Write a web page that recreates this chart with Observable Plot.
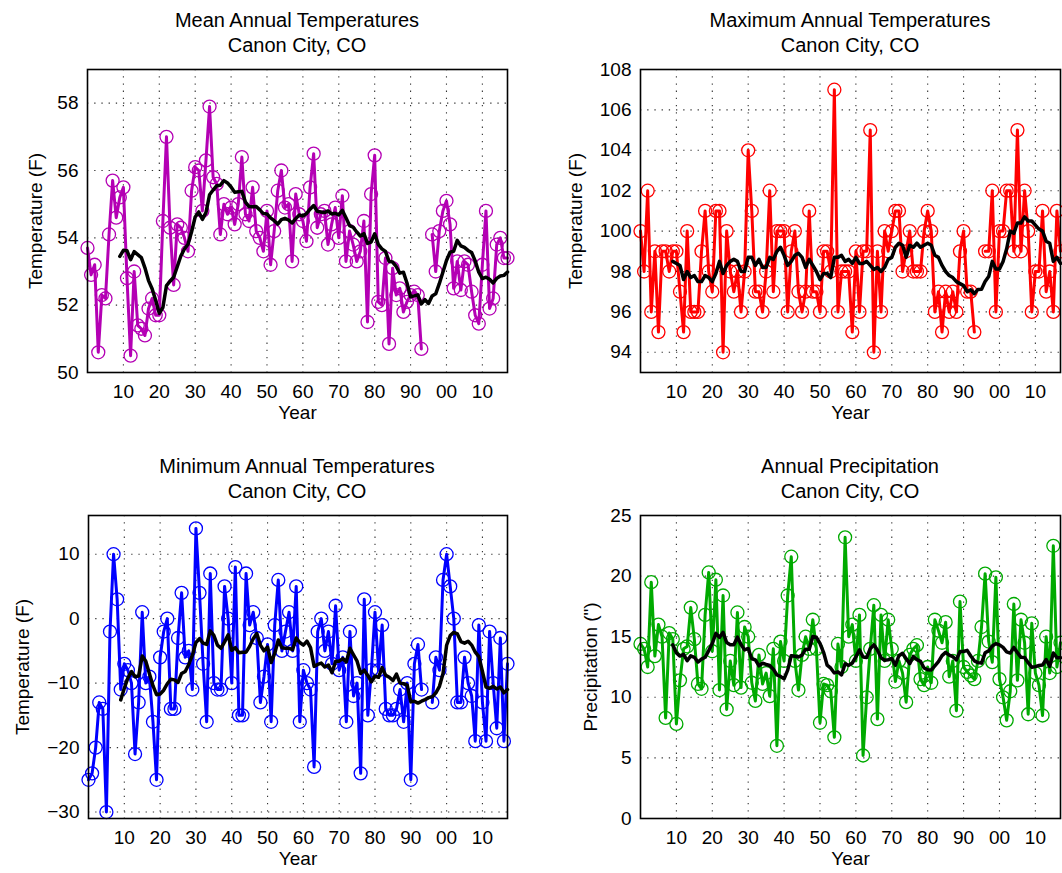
<!DOCTYPE html>
<html>
<head>
<meta charset="utf-8">
<script src="https://cdn.jsdelivr.net/npm/d3@7"></script>
<script src="https://cdn.jsdelivr.net/npm/@observablehq/plot@0.6"></script>
<style>
  html, body { margin: 0; padding: 0; background: #fff; }
  #root { position: relative; width: 1062px; height: 873px; font-family: "Liberation Sans", Arial, Helvetica, sans-serif; }
  .title { position: absolute; width: 440px; text-align: center; font-size: 20px; line-height: 25px; color: #000; }
  .panel { position: absolute; }
</style>
</head>
<body>
<div id="root"></div>
<script>
const FONT = '"Liberation Sans", Arial, Helvetica, sans-serif';

const years = [
  1900,1901,1902,1903,1904,1905,1906,1907,1908,1909,
  1910,1911,1912,1913,1914,1915,1916,1917,1918,1919,
  1920,1921,1922,1923,1924,1925,1926,1927,1928,1929,
  1930,1931,1932,1933,1934,1935,1936,1937,1938,1939,
  1940,1941,1942,1943,1944,1945,1946,1947,1948,1949,
  1950,1951,1952,1953,1954,1955,1956,1957,1958,1959,
  1960,1961,1962,1963,1964,1965,1966,1967,1968,1969,
  1970,1971,1972,1973,1974,1975,1976,1977,1978,1979,
  1980,1981,1982,1983,1984,1985,1986,1987,1988,1989,
  1990,1991,1992,1993,1994,1995,1996,1997,1998,1999,
  2000,2001,2002,2003,2004,2005,2006,2007,2008,2009,
  2010,2011,2012,2013,2014,2015,2016,2017
];

const meanTemp = [
  53.7,52.9,53.2,50.6,52.3,52.2,54.1,55.7,54.6,55.2,
  55.5,52.8,50.5,53.0,51.4,51.3,51.1,51.9,52.2,51.7,
  51.7,54.5,57.0,54.3,52.6,54.4,54.3,54.0,53.6,55.4,
  56.1,56.0,54.8,56.3,57.9,55.8,55.6,54.1,55.0,54.7,
  54.9,54.4,55.0,56.4,54.7,54.5,55.5,54.2,54.0,53.6,
  54.8,53.2,54.2,55.4,56.0,54.9,55.0,53.3,55.3,54.7,
  54.5,53.9,55.5,56.5,54.3,54.7,54.8,53.8,54.4,54.9,
  54.0,55.25,53.3,54.2,53.8,53.3,53.6,54.5,51.5,55.3,
  56.45,52.1,52.0,53.4,50.85,53.1,52.3,52.5,51.8,52.1,
  52.3,52.4,52.3,50.7,null,null,54.1,53.0,54.2,54.8,
  55.1,54.4,52.5,53.3,52.45,53.3,53.2,52.4,51.7,51.45,
  53.2,54.8,51.9,52.2,53.8,54.0,53.4,53.4
];

const maxTemp = [
  100,98,102,96,99,95,99,99,98,99,
  99,97,95,100,96,96,96,99,101,98,
  97,101,101,94,100,98,97,98,96,98,
  104,101,97,97,96,98,102,97,100,100,
  100,96,99,100,97,96,97,101,97,97,
  96,99,99,98,107,96,98,98,98,95,
  99,96,99,99,105,94,99,96,100,99,
  100,101,101,98,99,100,98,98,98,100,
  101,100,96,97,95,97,96,97,96,99,
  100,97,97,95,null,null,99,99,102,96,
  100,100,102,102,99,105,99,102,100,96,
  98,98,101,97,98,96,101,99
];

const minTemp = [
  -25,-24,-20,-13,-14,-30,-2,10,3,-11,
  -7,-8,-10,-21,-13,1,-10,-9,-16,-25,
  -6,-2,0,-14,-14,-3,4,-6,-5,-11,
  14,4,-7,-16,7,-10,-11,-11,5,0,
  -10,8,-15,-15,7,-1,1,-3,-13,-9,
  -4,-16,-1,6,-5,-2,1,-5,5,-16,
  -8,-10,-11,-23,-2,0,-5,-2,-7,2,
  -8,-6,-16,-2,-12,-10,-24,3,-15,-8,
  1,-8,-1,-14,-15,-15,-14,-11,-16,-10,
  -25,-7,-4,-11,null,null,-13,-6,-8,6,
  10,5,0,-13,-13,-6,-10,-12,-19,-1,
  -13,-19,-2,-10,-17,-3,-19,-7
];

const precip = [
  14.4,14.0,12.5,19.5,13.4,16.0,15.0,8.3,15.3,14.8,
  7.8,11.4,14.0,14.2,17.4,14.8,11.1,10.7,16.8,20.3,
  13.8,19.7,10.6,18.4,9.0,13.0,11.0,17.0,10.8,15.8,
  15.0,11.2,9.7,13.5,11.1,12.0,10.1,14.0,6.0,14.6,
  13.0,18.4,21.6,13.0,10.6,13.5,15.0,14.0,16.4,14.0,
  7.9,11.1,11.0,10.5,6.7,14.4,12.5,23.2,15.0,16.0,
  13.0,16.8,5.2,10.0,14.0,17.6,8.2,16.8,13.0,16.4,
  14.0,11.3,13.0,12.0,9.6,13.5,14.0,14.3,11.5,11.0,
  12.5,11.2,16.4,15.5,14.5,16.2,11.7,13.0,8.9,17.9,
  12.5,12.1,11.8,11.5,13.0,15.8,20.2,14.6,12.9,19.9,
  11.5,10.0,8.1,10.5,17.7,11.4,16.4,14.5,8.6,16.1,
  12.0,11.0,8.5,15.0,12.0,22.5,12.5,14.5
];

const xTicks = [1910,1920,1930,1940,1950,1960,1970,1980,1990,2000,2010];
const meanTicks = [50,52,54,56,58];
const maxTicks = [94,96,98,100,102,104,106,108];
const minTicks = [-30,-20,-10,0,10];
const precipTicks = [0,5,10,15,20,25];

const panels = [
  {title: "Mean Annual Temperatures", sub: "Canon City, CO", values: meanTemp, color: "#b400b4",
   yDomain: [50, 59], yTicks: meanTicks, yLabel: "Temperature (F)",
   left: 0, top: 60, width: 520, ml: 87, mr: 13, mt: 9, mb: 60, ylx: -52, titleTop: 8, cx: 297},
  {title: "Maximum Annual Temperatures", sub: "Canon City, CO", values: maxTemp, color: "#ff0000",
   yDomain: [93, 108], yTicks: maxTicks, yLabel: "Temperature (F)",
   left: 540, top: 60, width: 522, ml: 100, mr: 2, mt: 9, mb: 60, ylx: -65, titleTop: 8, cx: 850},
  {title: "Minimum Annual Temperatures", sub: "Canon City, CO", values: minTemp, color: "#0000ff",
   yDomain: [-31, 16], yTicks: minTicks, yLabel: "Temperature (F)",
   left: 0, top: 505, width: 520, ml: 88, mr: 13, mt: 10, mb: 55, ylx: -66, titleTop: 454, cx: 297},
  {title: "Annual Precipitation", sub: "Canon City, CO", values: precip, color: "#00aa00",
   yDomain: [0, 25], yTicks: precipTicks, yLabel: 'Precipitation (")',
   left: 540, top: 505, width: 522, ml: 100, mr: 2, mt: 10, mb: 54, ylx: -50, titleTop: 454, cx: 850}
];

const root = document.getElementById("root");
const yearFmt = d => String(d % 100).padStart(2, "0");

for (const p of panels) {
  const rows = years.map((year, i) => ({year, v: p.values[i]}));
  const height = p.mt + 303 + p.mb;
  const chart = Plot.plot({
    width: p.width,
    height,
    marginLeft: p.ml, marginRight: p.mr, marginTop: p.mt, marginBottom: p.mb,
    style: {fontFamily: FONT, fontSize: "19px", color: "#000", background: "transparent", overflow: "visible"},
    x: {domain: [1900, 2017], label: null},
    y: {domain: p.yDomain, label: null},
    marks: [
      Plot.gridX(xTicks, {stroke: "#000", strokeOpacity: 0.8, strokeWidth: 1.1, strokeDasharray: "1.3,5.9"}),
      Plot.gridY(p.yTicks, {stroke: "#000", strokeOpacity: 0.8, strokeWidth: 1.1, strokeDasharray: "1.3,5.9"}),
      Plot.axisX(xTicks, {tickSize: 0, tickPadding: 12, tickFormat: yearFmt, fontSize: 19, label: null}),
      Plot.axisY(p.yTicks, {tickSize: 0, tickPadding: 9, fontSize: 19, label: null}),
      Plot.line(rows, {x: "year", y: "v", stroke: p.color, strokeWidth: 3}),
      Plot.dot(rows, {x: "year", y: "v", r: 6.5, stroke: p.color, strokeWidth: 1.3, fill: "none"}),
      Plot.line(rows, Plot.filter((d, i) => i >= 9,
        Plot.windowY({k: 10, anchor: "end", reduce: w => d3.mean(w)},
          {x: "year", y: "v", stroke: "#000", strokeWidth: 3.5}))),
      Plot.text([p.yLabel], {text: d => d, frameAnchor: "left", rotate: -90, dx: p.ylx, textAnchor: "middle", fontSize: 19}),
      Plot.text(["Year"], {text: d => d, frameAnchor: "bottom", dy: 33, lineAnchor: "top", fontSize: 19}),
      Plot.frame({stroke: "#000", strokeWidth: 1.6})
    ]
  });
  chart.classList.add("panel");
  chart.style.left = p.left + "px";
  chart.style.top = p.top + "px";
  root.appendChild(chart);

  const t = document.createElement("div");
  t.className = "title";
  t.style.left = (p.cx - 220) + "px";
  t.style.top = p.titleTop + "px";
  t.innerHTML = "";
  const l1 = document.createElement("div"); l1.textContent = p.title;
  const l2 = document.createElement("div"); l2.textContent = p.sub;
  t.appendChild(l1); t.appendChild(l2);
  root.appendChild(t);
}
</script>
</body>
</html>
